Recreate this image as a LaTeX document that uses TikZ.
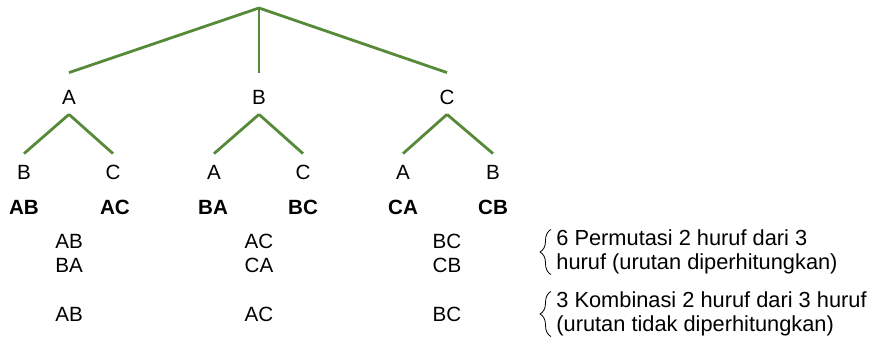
\documentclass[tikz,border=0pt]{standalone}
\usepackage{fontspec}
\setmainfont{Liberation Sans}
\usetikzlibrary{decorations.pathreplacing}
\definecolor{treegreen}{RGB}{86,138,56}

\begin{document}
\begin{tikzpicture}[
  x=0.5pt, y=-0.5pt,
  every node/.style={inner sep=0pt, font=\fontsize{10.3}{12}\selectfont},
  lvlone/.style={anchor=base, text height=15.65pt, text depth=4.85pt},
  lvltwo/.style={anchor=base, text height=12.65pt, text depth=0pt},
  pair/.style={font=\fontsize{10.3}{12}\selectfont\bfseries},
  branch/.style={draw=treegreen, line width=1.4pt},
  note/.style={anchor=west, align=left, font=\fontsize{10.9}{12}\selectfont},
  curly/.style={draw, line width=0.4pt, decorate,
    decoration={brace, amplitude=5.5pt}}
]
  \useasboundingbox (0,0) rectangle (870,341);

  % tree
  \coordinate (root) at (259,8);
  \node[lvlone] (a) at (69,104.3) {A};
  \node[lvlone] (b) at (259,104.3) {B};
  \node[lvlone] (c) at (447,104.3) {C};

  \node[lvltwo] (ab) at (24,179.3) {B};
  \node[lvltwo] (ac) at (113,179.3) {C};
  \node[lvltwo] (ba) at (214,179.3) {A};
  \node[lvltwo] (bc) at (303,179.3) {C};
  \node[lvltwo] (ca) at (403,179.3) {A};
  \node[lvltwo] (cb) at (493,179.3) {B};

  \draw[branch] (root) -- (a.north);
  \draw[branch] (root) -- (b.north);
  \draw[branch] (root) -- (c.north);
  \draw[branch] (a.south) -- (ab.north);
  \draw[branch] (a.south) -- (ac.north);
  \draw[branch] (b.south) -- (ba.north);
  \draw[branch] (b.south) -- (bc.north);
  \draw[branch] (c.south) -- (ca.north);
  \draw[branch] (c.south) -- (cb.north);

  % pairs
  \node[pair] (pab) at (24,207) {AB};
  \node[pair] (pac) at (115,207) {AC};
  \node[pair] (pba) at (213,207) {BA};
  \node[pair] (pbc) at (303,207) {BC};
  \node[pair] (pca) at (403,207) {CA};
  \node[pair] (pcb) at (493,207) {CB};

  % permutasi dan kombinasi
  \node (p1) at (69,241) {AB};
  \node (p2) at (69,265) {BA};
  \node (p3) at (259,241) {AC};
  \node (p4) at (259,265) {CA};
  \node (p5) at (447,241) {BC};
  \node (p6) at (447,265) {CB};
  \node (k1) at (69,314) {AB};
  \node (k2) at (259,314) {AC};
  \node (k3) at (447,314) {BC};

  \node[note] (perm) at (556,252) {6 Permutasi 2 huruf dari 3\\huruf (urutan diperhitungkan)};
  \node[note] (komb) at (556,314) {3 Kombinasi 2 huruf dari 3 huruf\\(urutan tidak diperhitungkan)};
  \draw[curly] ([xshift=-2.5pt]perm.south west) -- ([xshift=-2.5pt]perm.north west);
  \draw[curly] ([xshift=-2.5pt]komb.south west) -- ([xshift=-2.5pt]komb.north west);
\end{tikzpicture}
\end{document}
